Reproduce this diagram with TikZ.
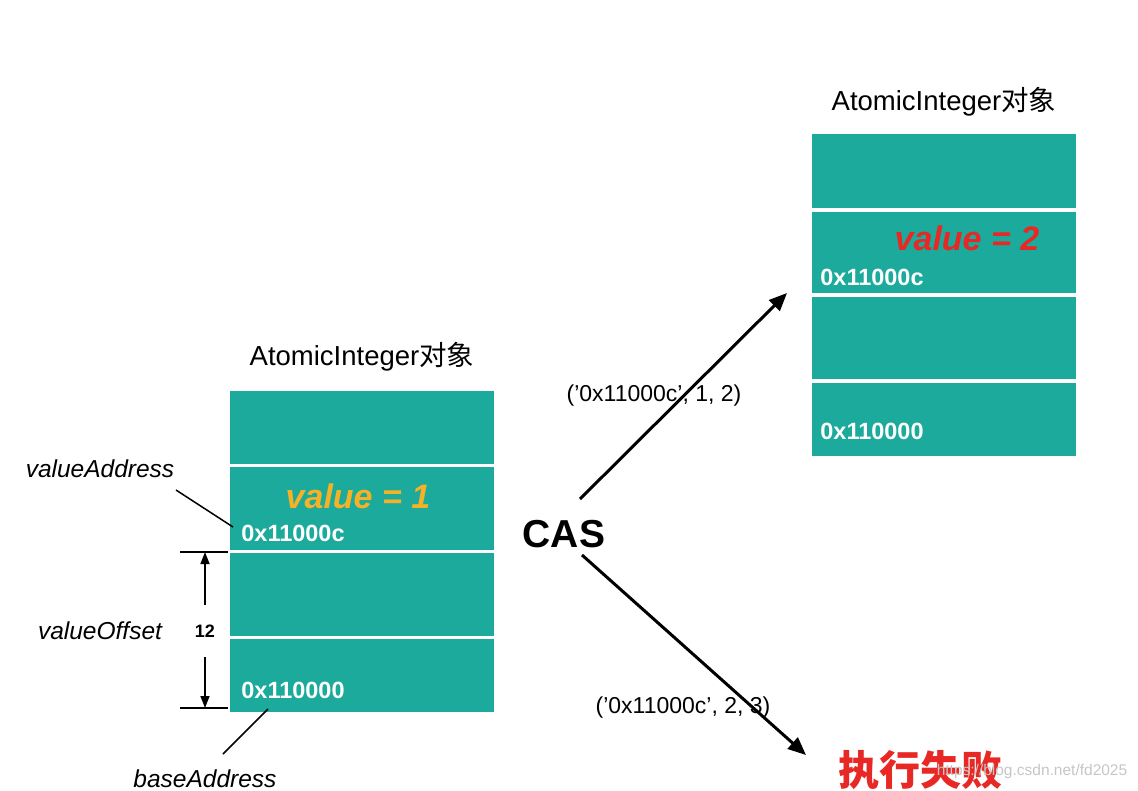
\documentclass[tikz,border=0pt]{standalone}
\usepackage{fontspec}
\setmainfont{Liberation Sans}
\newfontfamily\cjk{Noto Sans CJK SC}
\usetikzlibrary{arrows.meta}

\definecolor{cellteal}{RGB}{27,170,155}
\definecolor{valorange}{RGB}{245,178,38}
\definecolor{valred}{RGB}{232,40,36}

\tikzset{every picture/.style={line width=0.75pt}}
\tikzset{
	cell/.style={fill=cellteal, minimum width=264pt, inner sep=0pt},
	addr/.style={anchor=west, inner sep=0pt, text=white, font=\fontsize{23.5}{27}\selectfont\bfseries},
	valtext/.style={inner sep=0pt, font=\fontsize{34}{40}\selectfont\bfseries\itshape},
	title/.style={inner sep=0pt, font=\fontsize{27.5}{32}\selectfont},
	note/.style={inner sep=0pt, font=\fontsize{24.5}{28}\selectfont\itshape},
	num/.style={inner xsep=2pt, inner ysep=19pt, font=\fontsize{18}{22}\selectfont\bfseries},
	tuple/.style={inner sep=0pt, font=\fontsize{23}{27}\selectfont},
	thin/.style={line width=1.5pt},
	bigarrow/.style={line width=3pt, -{Triangle[length=18pt,width=15pt]}},
	smallarrow/.style={line width=1.5pt, -{Triangle[length=12pt,width=9pt]}}
}

\begin{document}
\begin{tikzpicture}[x=1pt,y=1pt,yscale=-1,xscale=1]
		\useasboundingbox (0,0) rectangle (1138,790);
		
		% left object
		\node (l1) [cell, minimum height=73pt] at (362,427.5) {};
		\node (l2) [cell, minimum height=83pt] at (362,508.5) {};
		\node (l3) [cell, minimum height=83pt] at (362,594.5) {};
		\node (l4) [cell, minimum height=73pt] at (362,675.5) {};
		% right object
		\node (r1) [cell, minimum height=74pt] at (944,171) {};
		\node (r2) [cell, minimum height=81pt] at (944,252.5) {};
		\node (r3) [cell, minimum height=82pt] at (944,338) {};
		\node (r4) [cell, minimum height=73pt] at (944,419.5) {};
		
		% Text Node
		\node (ltitle) [title] at (362,357) {AtomicInteger{\cjk 对象}};
		% Text Node
		\node (lval) [valtext, text=valorange] at (358,496) {value = 1};
		% Text Node
		\node (laddr) [addr] at (241,533) {0x11000c};
		% Text Node
		\node (lbase) [addr] at (241,690) {0x110000};
		% Text Node
		\node (rtitle) [title] at (944,102) {AtomicInteger{\cjk 对象}};
		% Text Node
		\node (rval) [valtext, text=valred] at (967,238) {value = 2};
		% Text Node
		\node (raddr) [addr] at (820,277) {0x11000c};
		% Text Node
		\node (rbase) [addr] at (820,431) {0x110000};
		
		% Text Node
		\node (vaddr) [note] at (100,469) {valueAddress};
		% Text Node
		\node (voff) [note] at (100,631) {valueOffset};
		% Text Node
		\node (baddr) [note, anchor=base] at (205,787) {baseAddress};
		% Text Node
		\node (off) [num] at (205,631) {12};
		
		% leader lines
		\coordinate (vaA) at (176,490);
		\coordinate (vaB) at (233,527);
		\draw [thin] (vaA) -- (vaB);
		\coordinate (baA) at (223,754);
		\coordinate (baB) at (268,709);
		\draw [thin] (baA) -- (baB);
		
		% offset dimension
		\coordinate (dtop) at (205,552);
		\coordinate (dbot) at (205,708);
		\draw [thin] ([xshift=-25pt]dtop) -- ([xshift=23pt]dtop);
		\draw [thin] ([xshift=-25pt]dbot) -- ([xshift=23pt]dbot);
		\draw [smallarrow] (off.north) -- (dtop);
		\draw [smallarrow] (off.south) -- (dbot);
		
		% CAS
		\node (cas) [inner sep=0pt, font=\fontsize{39}{44}\selectfont\bfseries] at (564,534) {CAS};
		% Text Node
		\node (tup1) [tuple] at (654,396) {(’0x11000c’, 1, 2)};
		% Text Node
		\node (tup2) [tuple] at (683,708) {(’0x11000c’, 2, 3)};
		% Text Node
		\node (fail) [inner sep=0pt, text=valred, font=\fontsize{41}{46}\selectfont\cjk\bfseries] at (920,770) {执行失败};
		
		\coordinate (upS) at (580,499);
		\coordinate (upE) at (787,293);
		\coordinate (dnS) at (582,555);
		\coordinate (dnE) at (806,755);
		\draw [bigarrow] (upS) -- (upE);
		\draw [bigarrow] (dnS) -- (dnE);
		
		% Text Node
		\node (wm) [inner sep=0pt, text=gray!45, font=\fontsize{15.5}{18}\selectfont] at (1032,771) {https://blog.csdn.net/fd2025};
\end{tikzpicture}
\end{document}
